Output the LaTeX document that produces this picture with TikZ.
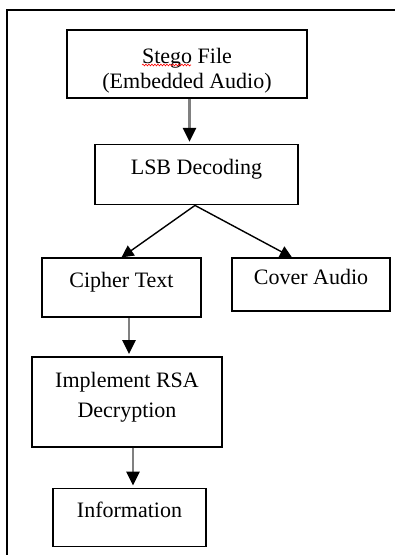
\documentclass[tikz,border=0pt]{standalone}
\usepackage{fontspec}
\setmainfont{Liberation Serif}
\usetikzlibrary{positioning}
\usetikzlibrary{arrows.meta}
\usetikzlibrary{decorations.pathmorphing}

\begin{document}
\begin{tikzpicture}[x=1pt,y=1pt,line width=1.6pt,
  stepbox/.style={draw,align=center,inner sep=0pt,text height=15pt,text depth=15pt,
    font=\fontsize{22}{27}\selectfont},
  downarrow/.style={-{Triangle[width=13pt,length=14pt,color=black]},line width=2.6pt,black!50,shorten >=2pt},
  sidearrow/.style={-{Triangle[width=12pt,length=12pt]},line width=1.4pt}]
  \useasboundingbox (0,0) rectangle (395,-555);
  \draw[line width=2.4pt] (395,-10) -- (7,-10) -- (7,-555);
  \node[stepbox,minimum width=240pt,minimum height=68pt,text height=50pt,text depth=2pt,
    font=\fontsize{22}{25}\selectfont](stego) at (187,-64) {Stego File\\(Embedded Audio)};
  \node[stepbox,below=45pt of stego,xshift=9.5pt,minimum width=203pt,minimum height=60pt](lsb) {LSB Decoding};
  \node[stepbox,below=52pt of lsb,xshift=-75pt,minimum width=159pt,minimum height=59pt](cipher) {Cipher Text};
  \node[stepbox,below=52pt of lsb,xshift=114.5pt,minimum width=158pt,minimum height=53pt](cover) {Cover Audio};
  \node[stepbox,below=38pt of cipher,xshift=5.5pt,minimum width=190pt,minimum height=90pt,text height=40pt,text depth=8pt,
    font=\fontsize{22}{30}\selectfont](rsa) {Implement RSA\\Decryption};
  \node[stepbox,below=40pt of rsa,xshift=2.5pt,minimum width=153pt,minimum height=58pt](info) {Information};
  % spelling mark under Stego
  \draw[red,line width=0.6pt,decorate,decoration={snake,amplitude=0.9pt,segment length=3pt}]
    ([xshift=-45pt,yshift=-1pt]stego.center) -- ([xshift=4pt,yshift=-1pt]stego.center);
  \draw[downarrow] ([xshift=2.5pt]stego.south) -- ([xshift=2.5pt]stego.south |- lsb.north);
  \draw[sidearrow] ([xshift=-1.5pt]lsb.south) -- (cipher.north);
  \draw[sidearrow] ([xshift=-1.5pt]lsb.south) -- ([xshift=-19pt]cover.north);
  \draw[downarrow] ([xshift=7.5pt]cipher.south) -- ([xshift=7.5pt]cipher.south |- rsa.north);
  \draw[downarrow] ([xshift=6pt]rsa.south) -- ([xshift=6pt]rsa.south |- info.north);
\end{tikzpicture}
\end{document}
